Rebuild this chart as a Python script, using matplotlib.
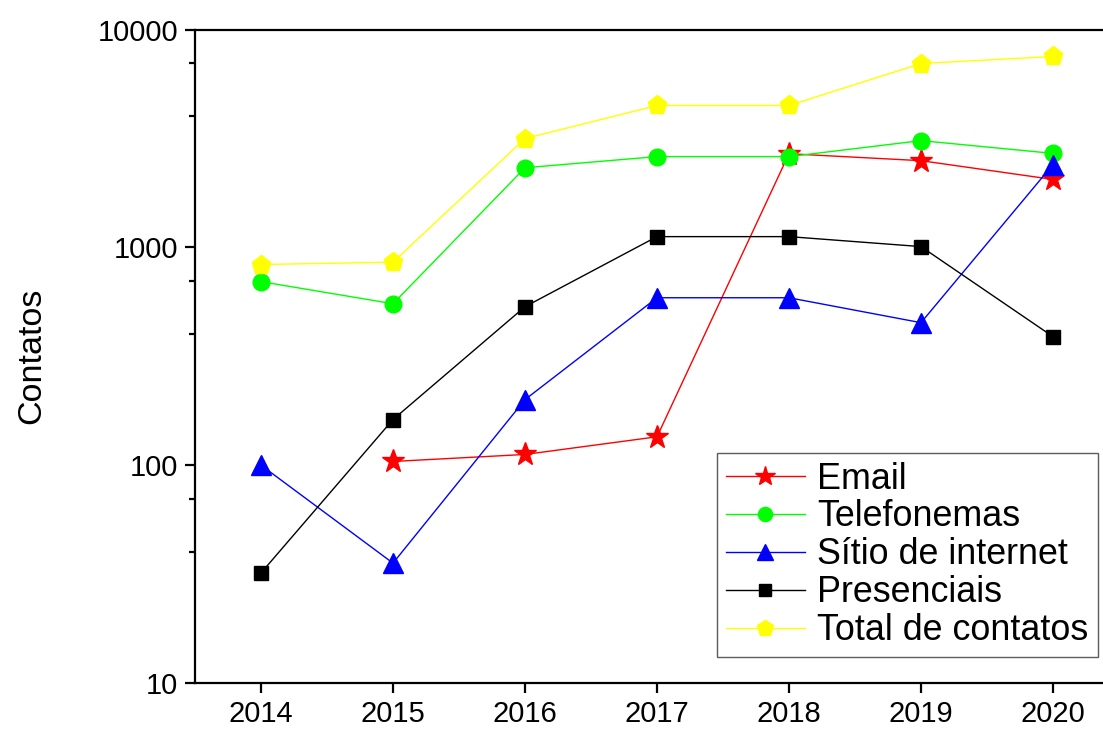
import matplotlib
matplotlib.use("Agg")
import matplotlib.pyplot as plt
import matplotlib.ticker as ticker
import numpy as np

plt.rcParams['font.family'] = ['Liberation Sans', 'DejaVu Sans']

years = [2014, 2015, 2016, 2017, 2018, 2019, 2020]
email = [np.nan, 104, 112, 135, 2690, 2500, 2050]
telefonemas = [696, 551, 2320, 2610, 2610, 3090, 2700]
sitio = [100, 35.5, 200, 587, 587, 451, 2400]
presenciais = [32, 162, 534, 1120, 1120, 1008, 389]
total = [834, 855, 3160, 4480, 4480, 6980, 7520]

series = [
    ('Email', email, '#FF0000', '*', 17),
    ('Telefonemas', telefonemas, '#00FF00', 'o', 12),
    ('Sítio de internet', sitio, '#0000FF', '^', 14),
    ('Presenciais', presenciais, '#000000', 's', 10),
    ('Total de contatos', total, '#FFFF00', 'p', 14),
]

fig = plt.figure(figsize=(11.03, 7.29), dpi=100)
ax = fig.add_axes([0.1768, 0.0631, 1.0145 - 0.1768, 0.9595 - 0.0631])

for name, vals, col, mk, ms in series:
    ax.plot(years, vals, color=col, marker=mk, markersize=ms, linewidth=1,
            markeredgecolor=col, label=name)

ax.set_yscale('log')
ax.set_ylim(10, 10000)
ax.set_xlim(2013.5, 2020.5)
ax.set_xticks(years)
ax.yaxis.set_major_locator(ticker.FixedLocator([10, 100, 1000, 10000]))
ax.yaxis.set_major_formatter(ticker.FuncFormatter(lambda v, p: '%d' % v))
ax.yaxis.set_minor_locator(ticker.FixedLocator([40, 70, 400, 700, 4000, 7000]))
ax.yaxis.set_minor_formatter(ticker.NullFormatter())

for s in ax.spines.values():
    s.set_linewidth(1.6)
ax.tick_params(which='major', direction='out', length=7, width=1.6, labelsize=21, pad=5)
ax.tick_params(which='minor', direction='out', length=4, width=1.6)
ax.set_ylabel('Contatos', fontsize=24.5, labelpad=36)

leg = ax.legend(loc='lower left', bbox_to_anchor=(717 / 1103, (729 - 657) / 729),
                bbox_transform=fig.transFigure, fontsize=25.8, frameon=True,
                fancybox=False, edgecolor='#333333', borderpad=0.25,
                labelspacing=0.08, handlelength=2.2, handletextpad=0.35,
                borderaxespad=0, markerscale=0.85)
leg.get_frame().set_linewidth(1)

fig.savefig('out.png', dpi=100)
